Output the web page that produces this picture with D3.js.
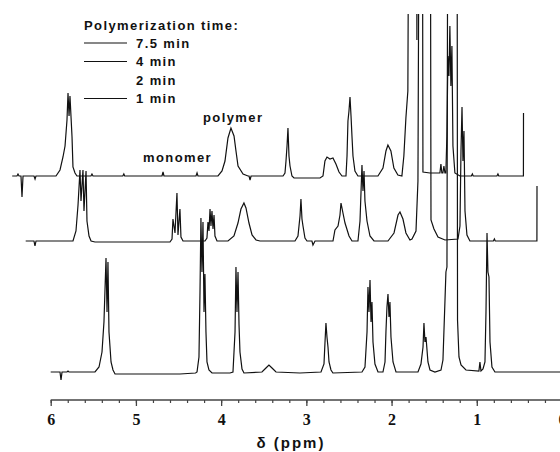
<!DOCTYPE html>
<html><head><meta charset="utf-8">
<script src="https://cdn.jsdelivr.net/npm/d3@7/dist/d3.min.js"></script>
<style>body{margin:0;background:#fff}svg{display:block}</style>
</head><body>
<script>
// ---- data ----
const legendTitle = "Polymerization time:";
const legendLabels = ["7.5 min", "4 min", "2 min", "1 min"];
const legendHasLine = [true, true, false, true];
const majorTicks = [6, 5, 4, 3, 2, 1, 0];
const axisTitle = "δ (ppm)";
const annotations = ["polymer", "monomer"];

// [chemical shift ppm, intensity]
const spectrum7_5 = [[6.000,0],[5.944,0],[5.932,2],[5.920,0],[5.897,0],[5.885,-21],[5.873,0],[5.744,0],[5.732,-3],[5.721,0],[5.486,0],[5.439,6],[5.404,19],[5.380,30],[5.357,56],[5.345,83],[5.333,60],[5.322,80],[5.298,39],[5.287,9],[5.263,3],[5.240,0],[5.076,0],[5.064,2],[5.052,0],[4.702,0],[4.690,2],[4.680,0],[4.242,0],[4.230,4],[4.219,0],[3.843,0],[3.831,3],[3.820,0],[3.585,0],[3.538,5],[3.503,15],[3.468,38],[3.433,48],[3.397,40],[3.374,25],[3.350,10],[3.291,2],[3.233,0],[3.221,0],[3.209,-4],[3.197,0],[2.822,0],[2.799,3],[2.787,15],[2.775,30],[2.764,48],[2.752,20],[2.740,10],[2.717,0],[2.693,-2],[2.388,-2],[2.353,0],[2.330,15],[2.306,19],[2.271,17],[2.236,18],[2.201,12],[2.165,4],[2.130,0],[2.083,0],[2.071,20],[2.060,55],[2.048,65],[2.036,79],[2.024,60],[2.013,40],[2.001,20],[1.978,5],[1.943,0],[1.708,0],[1.649,8],[1.614,25],[1.591,31],[1.556,25],[1.521,8],[1.474,1],[1.427,0],[1.404,20],[1.380,58],[1.357,85],[1.333,600],[1.262,600],[1.251,136],[1.239,600],[1.192,600],[1.180,4],[1.098,3],[0.993,3],[0.981,3],[0.969,12],[0.958,3],[0.946,3],[0.934,10],[0.922,3],[0.911,3],[0.899,40],[0.887,120],[0.875,100],[0.864,150],[0.852,90],[0.840,130],[0.828,30],[0.805,3],[0.746,0],[0.612,0],[0.600,2],[0.590,0],[0.312,0],[0.300,2],[0.290,0],[0.001,0],[0.000,63]];

const spectrum4 = [[6.000,0],[5.903,0],[5.891,-5],[5.879,0],[5.445,0],[5.410,10],[5.386,36],[5.363,71],[5.351,40],[5.328,71],[5.316,30],[5.292,70],[5.281,20],[5.257,5],[5.233,0],[5.187,-1],[4.307,-1],[4.283,2],[4.272,22],[4.248,8],[4.225,48],[4.213,6],[4.190,32],[4.178,4],[4.154,0],[3.896,0],[3.873,3],[3.861,19],[3.849,10],[3.837,32],[3.826,15],[3.814,30],[3.802,12],[3.790,26],[3.779,5],[3.755,0],[3.626,0],[3.556,5],[3.509,18],[3.474,32],[3.439,38],[3.415,33],[3.380,18],[3.344,6],[3.297,1],[3.250,0],[2.840,0],[2.805,5],[2.781,25],[2.770,42],[2.758,22],[2.746,15],[2.723,3],[2.699,0],[2.641,0],[2.629,-4],[2.605,0],[2.394,0],[2.371,11],[2.335,15],[2.312,26],[2.300,38],[2.277,28],[2.253,18],[2.206,5],[2.171,0],[2.101,0],[2.077,20],[2.054,76],[2.042,50],[2.030,70],[2.019,40],[1.995,20],[1.960,5],[1.913,0],[1.749,0],[1.678,8],[1.631,26],[1.608,29],[1.573,22],[1.538,8],[1.491,1],[1.467,2],[1.420,10],[1.397,60],[1.373,600],[1.326,600],[1.315,420],[1.303,600],[1.256,600],[1.244,21],[1.209,12],[1.162,4],[1.080,1],[0.927,2],[0.904,15],[0.892,90],[0.880,134],[0.869,80],[0.857,110],[0.845,30],[0.822,6],[0.787,0],[0.512,0],[0.500,2],[0.490,0],[0.001,0],[0.000,55]];

const spectrum1 = [[6.000,0],[5.891,0],[5.879,-8],[5.867,0],[5.809,0],[5.797,1],[5.785,0],[5.480,0],[5.433,5],[5.398,20],[5.375,50],[5.351,114],[5.339,60],[5.328,110],[5.316,40],[5.292,10],[5.269,2],[5.245,-2],[4.483,-2],[4.300,-1],[4.283,0],[4.260,15],[4.248,80],[4.237,154],[4.225,100],[4.213,150],[4.201,60],[4.190,98],[4.178,40],[4.166,10],[4.143,2],[4.107,-1],[3.896,-1],[3.861,0],[3.837,40],[3.826,105],[3.814,60],[3.802,100],[3.790,47],[3.779,20],[3.755,3],[3.732,-1],[3.521,0],[3.474,4],[3.439,7],[3.403,4],[3.356,0],[3.075,-1],[2.828,0],[2.793,8],[2.781,30],[2.770,49],[2.758,35],[2.746,25],[2.734,10],[2.711,2],[2.688,-1],[2.347,0],[2.312,5],[2.288,40],[2.277,85],[2.265,60],[2.253,92],[2.241,50],[2.230,70],[2.218,30],[2.195,8],[2.159,0],[2.101,0],[2.077,10],[2.066,40],[2.054,65],[2.042,78],[2.030,55],[2.019,70],[2.007,35],[1.983,10],[1.948,0],[1.690,0],[1.655,8],[1.631,25],[1.620,49],[1.608,30],[1.596,35],[1.573,10],[1.549,2],[1.491,0],[1.420,2],[1.397,12],[1.373,72],[1.362,100],[1.350,105],[1.338,600],[1.291,600],[1.280,500],[1.268,600],[1.232,600],[1.226,52],[1.209,15],[1.185,7],[1.127,2],[0.975,1],[0.963,10],[0.951,1],[0.927,3],[0.904,10],[0.892,60],[0.880,139],[0.869,100],[0.857,95],[0.845,30],[0.822,5],[0.787,0],[0.000,0]];

// ---- layout ----
const W = 560, H = 452;
const svg = d3.select("body").append("svg").attr("width", W).attr("height", H);

const x = d3.scaleLinear().domain([6, 0]).range([50.7, 562]);
const y = d3.scaleLinear().domain([0, 100]).range([0, -100]);

const traces = [
  {data: spectrum1,   base: 372, dx: 0},
  {data: spectrum4,   base: 241, dx: -25},
  {data: spectrum7_5, base: 176, dx: -38.5}
];

svg.append("clipPath").attr("id", "clip")
  .append("rect").attr("x", 0).attr("y", 14).attr("width", W).attr("height", H - 14);

const gTr = svg.append("g").attr("clip-path", "url(#clip)");
traces.forEach(t => {
  const line = d3.line().x(d => x(d[0]) + t.dx).y(d => t.base + y(d[1]));
  gTr.append("path").attr("d", line(t.data))
    .attr("fill", "none").attr("stroke", "#111").attr("stroke-width", 1.2)
    .attr("stroke-linejoin", "miter");
});

// axis
const axisY = 400;
const gAx = svg.append("g").attr("transform", `translate(0,${axisY})`);
gAx.call(d3.axisBottom(x).tickValues(d3.range(0, 6.01, 0.2)).tickSize(3).tickFormat(""));
gAx.call(g => g.select(".domain").remove());
gAx.append("line").attr("x1", x(6)).attr("x2", W).attr("y1", 0).attr("y2", 0)
  .attr("stroke", "#444").attr("stroke-width", 1.4);
gAx.selectAll(".tick line").attr("stroke", "#444").attr("stroke-width", 1.2);
const gMaj = svg.append("g").attr("transform", `translate(0,${axisY})`);
gMaj.call(d3.axisBottom(x).tickValues(majorTicks).tickSize(6).tickPadding(8).tickFormat(d3.format("d")));
gMaj.select(".domain").remove();
gMaj.selectAll(".tick line").attr("stroke", "#444").attr("stroke-width", 1.3);
gMaj.selectAll(".tick text")
  .attr("font-family", "'Liberation Serif','Times New Roman',serif")
  .attr("font-weight", "bold").attr("font-size", 16).attr("fill", "#111");

svg.append("text").attr("x", 291).attr("y", 448).attr("text-anchor", "middle")
  .attr("font-family", "'Liberation Sans',Arial,sans-serif").attr("font-weight", "bold")
  .attr("font-size", 15).attr("letter-spacing", 2).attr("fill", "#111").text(axisTitle);

// legend
const sans = "'Liberation Sans',Arial,sans-serif";
svg.append("text").attr("x", 84).attr("y", 29.5).attr("font-family", sans).attr("font-weight", "bold")
  .attr("font-size", 13).attr("letter-spacing", 1.4).attr("fill", "#111").text(legendTitle);
const ly = [43, 61.5, 80, 98.5];
legendLabels.forEach((lab, i) => {
  if (legendHasLine[i]) {
    svg.append("line").attr("x1", 84).attr("x2", 127).attr("y1", ly[i]).attr("y2", ly[i])
      .attr("stroke", "#111").attr("stroke-width", 1.1);
  }
  svg.append("text").attr("x", 136).attr("y", ly[i] + 4.5).attr("font-family", sans)
    .attr("font-weight", "bold").attr("font-size", 13).attr("letter-spacing", 1.4)
    .attr("fill", "#111").text(lab);
});

// annotations
svg.append("text").attr("x", 203).attr("y", 121.5).attr("font-family", sans).attr("font-weight", "bold")
  .attr("font-size", 13).attr("letter-spacing", 1.4).attr("fill", "#111").text(annotations[0]);
svg.append("text").attr("x", 143).attr("y", 161.5).attr("font-family", sans).attr("font-weight", "bold")
  .attr("font-size", 13).attr("letter-spacing", 1.4).attr("fill", "#111").text(annotations[1]);
</script>
</body></html>
